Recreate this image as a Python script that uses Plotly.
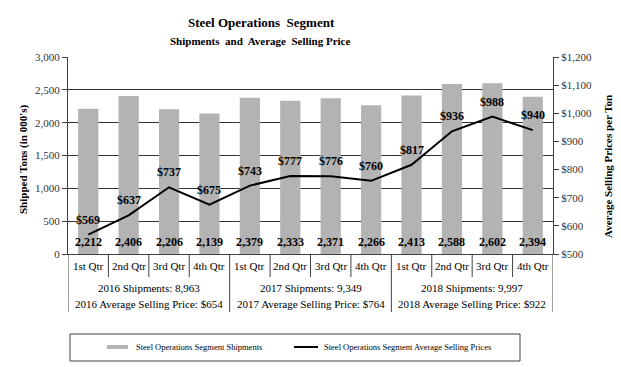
import plotly.graph_objects as go

quarters = ["1st Qtr", "2nd Qtr", "3rd Qtr", "4th Qtr"] * 3
years = ["2016", "2017", "2018"]
shipments = [2212, 2406, 2206, 2139, 2379, 2333, 2371, 2266, 2413, 2588, 2602, 2394]
prices = [569, 637, 737, 675, 743, 777, 776, 760, 817, 936, 988, 940]
annual_asp = [654, 764, 922]
series_names = ["Steel Operations Segment Shipments",
                "Steel Operations Segment Average Selling Prices"]

FONT = "Liberation Serif"
x = list(range(len(shipments)))

L, R, T, B = 68, 553, 57, 254
W, H = 621, 367
ph = B - T


def py(px):
    return (B - px) / ph


def pxx(px):
    return (px - L) / (R - L)


fig = go.Figure()
fig.add_trace(go.Bar(
    x=x, y=shipments, name=series_names[0], showlegend=False,
    marker=dict(color="#b3b3b3", line=dict(width=0)), width=0.5,
))
fig.add_trace(go.Scatter(
    x=x, y=prices, yaxis="y2", mode="lines", showlegend=False,
    name=series_names[1], line=dict(color="#000", width=2),
))

shapes = []
for i in range(len(x) + 1):
    xv = i - 0.5
    y1 = py(312) if i % 4 == 0 else py(277)
    shapes.append(dict(type="line", xref="x", yref="paper", x0=xv, x1=xv,
                       y0=0, y1=y1, line=dict(color="#404040", width=1)))
# legend box and swatches
shapes.append(dict(type="rect", xref="paper", yref="paper",
                   x0=pxx(70), x1=pxx(520), y0=py(334), y1=py(361),
                   line=dict(color="#404040", width=1)))
shapes.append(dict(type="rect", xref="paper", yref="paper",
                   x0=pxx(107), x1=pxx(128), y0=py(349), y1=py(345),
                   fillcolor="#b3b3b3", line=dict(width=0)))
shapes.append(dict(type="line", xref="paper", yref="paper",
                   x0=pxx(294), x1=pxx(318), y0=py(347), y1=py(347),
                   line=dict(color="#000", width=2)))

def A(**kw):
    d = dict(showarrow=False, xanchor="center", yanchor="middle")
    d.update(kw)
    return d

ann = []
for i, v in enumerate(shipments):
    ann.append(A(x=i, y=0, xref="x", yref="y", yshift=12, text=f"<b>{v:,}</b>",
                 font=dict(family=FONT, size=12, color="#000")))
for i, v in enumerate(prices):
    ann.append(A(x=i, y=v, xref="x", yref="y2", yshift=15, text=f"<b>${v:,}</b>",
                 font=dict(family=FONT, size=12, color="#000")))
for i, q in enumerate(quarters):
    ann.append(A(x=i, y=py(266), xref="x", yref="paper", text=q,
                 font=dict(family=FONT, size=11, color="#000")))
for k, yr in enumerate(years):
    tot = sum(shipments[4 * k:4 * k + 4])
    ann.append(A(x=4 * k + 1.5, y=py(288), xref="x", yref="paper",
                 text=f"{yr} Shipments: {tot:,}",
                 font=dict(family=FONT, size=11, color="#000")))
    ann.append(A(x=4 * k + 1.5, y=py(304), xref="x", yref="paper",
                 text=f"{yr} Average Selling Price: ${annual_asp[k]:,}",
                 font=dict(family=FONT, size=11, color="#000")))
ann.append(A(x=pxx(134), y=py(347), xref="paper", yref="paper", xanchor="left",
             text=series_names[0], font=dict(family=FONT, size=8.5, color="#000")))
ann.append(A(x=pxx(322), y=py(347), xref="paper", yref="paper", xanchor="left",
             text=series_names[1], font=dict(family=FONT, size=8.5, color="#000")))
ann.append(A(x=pxx(261), y=py(23), xref="paper", yref="paper",
             text="<b>Steel Operations  Segment</b>",
             font=dict(family=FONT, size=13, color="#000")))
ann.append(A(x=pxx(260), y=py(41), xref="paper", yref="paper",
             text="<b>Shipments  and  Average  Selling Price</b>",
             font=dict(family=FONT, size=11, color="#000")))
ann.append(A(x=pxx(23), y=py(160), xref="paper", yref="paper", textangle=-90,
             text="<b>Shipped Tons (in 000's)</b>",
             font=dict(family=FONT, size=11, color="#000")))
ann.append(A(x=pxx(608), y=py(167), xref="paper", yref="paper", textangle=-90,
             text="<b>Average Selling Prices per Ton</b>",
             font=dict(family=FONT, size=11, color="#000")))

fig.update_layout(
    width=W, height=H, margin=dict(l=L, r=W - R, t=T, b=H - B, autoexpand=False),
    paper_bgcolor="white", plot_bgcolor="white",
    font=dict(family=FONT, size=11, color="#000"),
    showlegend=False,
    xaxis=dict(range=[-0.5, 11.5], showticklabels=False, showgrid=False, zeroline=False,
               showline=True, linecolor="#404040", linewidth=1, ticks="", fixedrange=True),
    yaxis=dict(range=[0, 3000], dtick=500, tickformat=",", ticks="outside", ticklen=5,
               tickcolor="#404040", showline=True, linecolor="#404040", linewidth=1,
               showgrid=True, gridcolor="#333333", gridwidth=1, zeroline=False,
               tickfont=dict(family=FONT, size=11, color="#333")),
    yaxis2=dict(range=[500, 1200], dtick=100, tickprefix="$", tickformat=",", overlaying="y",
                side="right", ticks="outside", ticklen=5, tickcolor="#404040", showline=True,
                linecolor="#404040", linewidth=1, showgrid=False, zeroline=False,
                tickfont=dict(family=FONT, size=11, color="#333")),
    shapes=shapes, annotations=ann, bargap=0.5,
)

fig.write_html("out.html", config={"displayModeBar": False},
               post_script="document.body.style.margin='0';document.body.style.overflow='hidden';")
